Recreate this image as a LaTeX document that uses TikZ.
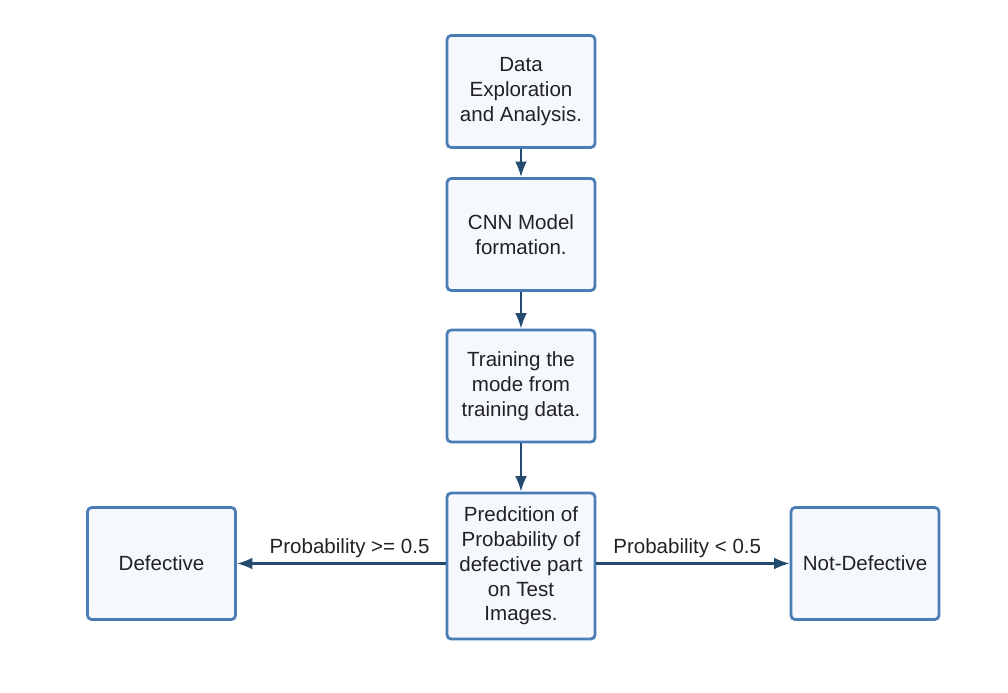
\documentclass[tikz,border=0pt]{standalone}
\usepackage{fontspec}
\setmainfont{Liberation Sans}
\usetikzlibrary{shapes,arrows.meta}
\definecolor{boxline}{HTML}{4A7DB5}
\definecolor{boxfill}{HTML}{F5F9FE}
\definecolor{arrowline}{HTML}{254A70}
\definecolor{textcol}{HTML}{222222}
\tikzstyle{block} = [rectangle, draw=boxline, fill=boxfill, line width=2pt,
    text=textcol, align=center, rounded corners=3pt, minimum width=3.7cm,
    minimum height=2.8cm, font=\fontsize{14.6}{17.6}\selectfont]
\tikzstyle{line} = [draw=arrowline, line width=1.6pt,
    -{Latex[length=11pt,width=8.5pt]}]
\tikzstyle{rule} = [text=textcol, font=\fontsize{14.6}{17.6}\selectfont]

\begin{document}
\begin{tikzpicture}[x=0.025cm, y=-0.025cm]
    \useasboundingbox (0,0) rectangle (1008,692);
    % Place nodes
    \node [block] (explore) at (521,91.5) {Data\\Exploration\\and Analysis.};
    \node [block] (cnn) at (521,234.5) {CNN Model\\formation.};
    \node [block] (train) at (521,386) {Training the\\mode from\\training data.};
    \node [block, minimum height=3.65cm] (predict) at (521,566)
        {Predcition of\\Probability of\\defective part\\on Test\\Images.};
    \node [block] (defect) at (161.5,563.5) {Defective};
    \node [block] (nodefect) at (865,563.5) {Not-Defective};
    % Draw edges
    \path [line] (explore) -- (cnn);
    \path [line] (cnn) -- (train);
    \path [line] (train) -- (predict);
    \path [line] (predict.west |- defect) -- node [rule, above, pos=0.46] {Probability >= 0.5} (defect);
    \path [line] (predict.east |- nodefect) -- node [rule, above, pos=0.47] {Probability < 0.5} (nodefect);
\end{tikzpicture}
\end{document}
